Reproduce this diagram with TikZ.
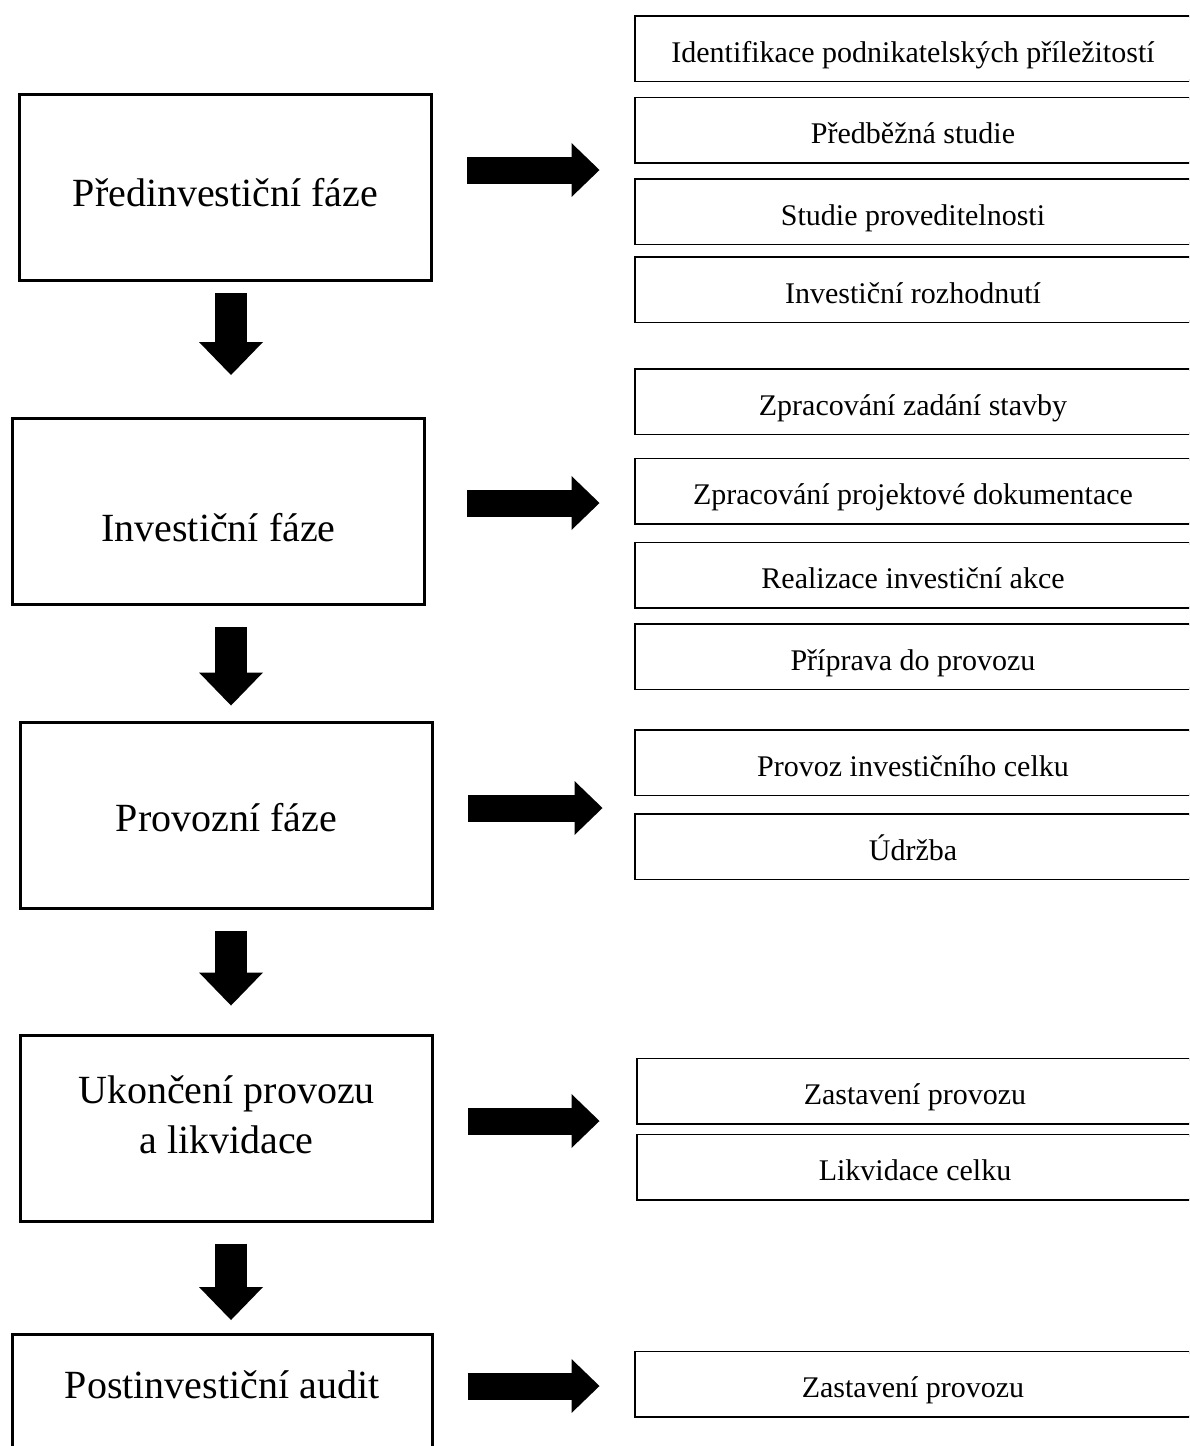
\documentclass[tikz,border=0pt]{standalone}
\usepackage{fontspec}
\setmainfont{Liberation Serif}
\usetikzlibrary{arrows.meta,positioning}
\tikzset{
    phase/.style =  {rectangle,
                    fill=white,
                    draw=black,
                    text=black,
                    line width=1.5pt,
                    minimum width=206pt,
                    minimum height=93pt,
                    align=center,
                    font=\fontsize{20}{25}\selectfont},
    % the activity boxes run on past the right edge of the page
    activity/.style = {rectangle,
                    fill=white,
                    draw=none,
                    text=black,
                    outer sep=0pt,
                    anchor=west,
                    minimum width=300pt,
                    minimum height=32pt,
                    inner sep=0pt,
                    text height=13.5pt,
                    text depth=0pt,
                    execute at begin node={\hspace*{-22.5pt}},
                    font=\fontsize{15}{18}\selectfont,
                    append after command={\pgfextra{\draw[line width=1.5pt]
                        (\tikzlastnode.north east) -- (\tikzlastnode.north west)
                        -- (\tikzlastnode.south west) -- (\tikzlastnode.south east);}}},
    -,
    rarrow/.style = {line width=13.5pt,
                    -{Triangle[width=27pt,length=14pt,line width=0pt]},
                    shorten <=17pt,
                    shorten >=18pt},
    darrow/.style = {line width=16pt,
                    -{Triangle[width=32pt,length=16.5pt,line width=0pt]}}}

\begin{document}
\begin{tikzpicture}[x=0.5pt,y=-0.5pt]
    \useasboundingbox (0,0) rectangle (1189,1446);
    \clip (0,0) rectangle (1189,1446);
    % phases
    \node[phase, text height=18.9pt, text depth=0pt] (b1) at (225.5,187.5) {Předinvestiční fáze};
    \node[phase, text height=29.9pt, text depth=0pt] (b2) at (218.5,511.5) {Investiční fáze};
    \node[phase, text height=16.4pt, text depth=0pt] (b3) at (226.5,815)   {Provozní fáze};
    \node[phase, text height=39.5pt, text depth=14pt] (b4) at (226.5,1128) {Ukončení provozu\\a likvidace};
    \node[phase, anchor=north, minimum width=210pt, text height=14pt, text depth=43pt]
                    (b5) at (222,1333)      {Postinvestiční audit};
    % activities
    \node[activity] (s1) at (635.5,48.5)    {Identifikace podnikatelských příležitostí};
    \node[activity] (s2) at (635.5,130)     {Předběžná studie};
    \node[activity] (s3) at (635.5,211.5)   {Studie proveditelnosti};
    \node[activity] (s4) at (635.5,289.5)   {Investiční rozhodnutí};
    \node[activity] (z1) at (635.5,401.5)   {Zpracování zadání stavby};
    \node[activity] (z2) at (635.5,491)     {Zpracování projektové dokumentace};
    \node[activity] (z3) at (635.5,575)     {Realizace investiční akce};
    \node[activity] (z4) at (635.5,656.5)   {Příprava do provozu};
    \node[activity] (p1) at (635.5,762.5)   {Provoz investičního celku};
    \node[activity] (p2) at (635.5,846.5)   {Údržba};
    \node[activity] (u1) at (637.5,1091)    {Zastavení provozu};
    \node[activity] (u2) at (637.5,1167)    {Likvidace celku};
    \node[activity] (e1) at (635.5,1384)    {Zastavení provozu};
    % arrow levels
    \coordinate (dx) at (231,0);
    \coordinate (r1) at (0,170);
    \coordinate (r2) at (0,503);
    \coordinate (r3) at (0,808);
    \coordinate (r4) at (0,1121);
    \coordinate (r5) at (0,1386);
    \draw[rarrow]                   (b1.east |- r1) -- (s1.west |- r1);
    \draw[rarrow, shorten <=20.5pt] (b2.east |- r2) -- (z1.west |- r2);
    \draw[rarrow, shorten >=16.5pt] (b3.east |- r3) -- (p1.west |- r3);
    \draw[rarrow, shorten >=19pt]   (b4.east |- r4) -- (u1.west |- r4);
    \draw[rarrow, shorten >=18pt]   (b5.east |- r5) -- (e1.west |- r5);
    \draw[darrow, shorten <=5.5pt, shorten >=21pt]  (b1.south -| dx) -- (b2.north -| dx);
    \draw[darrow, shorten <=10.5pt, shorten >=7.5pt] (b2.south -| dx) -- (b3.north -| dx);
    \draw[darrow, shorten <=10.5pt, shorten >=14pt]  (b3.south -| dx) -- (b4.north -| dx);
    \draw[darrow, shorten <=10.5pt, shorten >=6.5pt] (b4.south -| dx) -- (b5.north -| dx);
\end{tikzpicture}
\end{document}
